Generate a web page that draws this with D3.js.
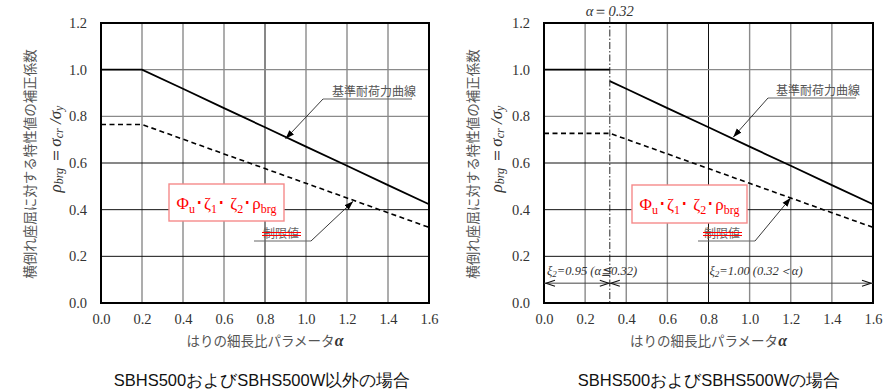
<!DOCTYPE html>
<html>
<head>
<meta charset="utf-8">
<script src="https://cdn.jsdelivr.net/npm/d3@7"></script>
<style>
  html, body { margin: 0; padding: 0; background: #fff; }
  svg { display: block; }
</style>
</head>
<body>
<svg id="chart" width="890" height="390"></svg>
<script>
// Axis ticks
const xTicks = [0.0, 0.2, 0.4, 0.6, 0.8, 1.0, 1.2, 1.4, 1.6];
const yTicks = [0.0, 0.2, 0.4, 0.6, 0.8, 1.0, 1.2];

// Left panel: reference resistance curve (solid) and limit value (dashed)
const leftAlpha = [0.0, 0.2, 0.4, 0.6, 0.8, 1.0, 1.2, 1.4, 1.6];
const leftBase  = [1.0, 1.0, 0.918, 0.835, 0.753, 0.67, 0.588, 0.505, 0.423];
const leftLimit = [0.765, 0.765, 0.702, 0.639, 0.576, 0.513, 0.45, 0.387, 0.324];

// Right panel (SBHS500 / SBHS500W)
const rightFlatAlpha = [0.0, 0.32];
const rightFlatBase  = [1.0, 1.0];
const rightAlpha = [0.32, 0.4, 0.6, 0.8, 1.0, 1.2, 1.4, 1.6];
const rightBase  = [0.951, 0.918, 0.835, 0.753, 0.67, 0.588, 0.505, 0.423];
const rightLimitAlpha = [0.0, 0.32, 0.4, 0.6, 0.8, 1.0, 1.2, 1.4, 1.6];
const rightLimit = [0.727, 0.727, 0.702, 0.639, 0.576, 0.513, 0.45, 0.387, 0.324];
const alphaBoundary = 0.32;
const xiLevel = 0.085;

const svg = d3.select("#chart");
const serif = "'Liberation Serif', 'DejaVu Serif', serif";
const sans = "'Liberation Sans', Arial, sans-serif";
const cjk = "'Noto Sans CJK JP', 'Noto Sans', sans-serif";

const defs = svg.append("defs");
defs.append("marker").attr("id", "arrowFill")
  .attr("viewBox", "0 0 10 10").attr("refX", 10).attr("refY", 5)
  .attr("markerWidth", 9).attr("markerHeight", 9).attr("orient", "auto")
  .attr("markerUnits", "userSpaceOnUse")
  .append("path").attr("d", "M0,1.5 L10,5 L0,8.5 Z").attr("fill", "#000");

function drawPanel(opt) {
  const x = d3.scaleLinear().domain([0, 1.6]).range([opt.x0, opt.x1]);
  const y = d3.scaleLinear().domain([0, 1.2]).range([303, 23]);
  const g = svg.append("g");

  // grid
  const darkX = new Set([0.8]);
  const darkY = new Set([0.2, 0.4, 0.6]);
  g.append("g").selectAll("line").data(xTicks.slice(1, -1)).join("line")
    .attr("x1", d => x(d)).attr("x2", d => x(d))
    .attr("y1", y(1.2)).attr("y2", y(0))
    .attr("stroke", d => darkX.has(d) ? "#111" : "#8a8a8a")
    .attr("stroke-width", d => darkX.has(d) ? 1 : 1.4);
  g.append("g").selectAll("line").data(yTicks.slice(1, -1)).join("line")
    .attr("x1", x(0)).attr("x2", x(1.6))
    .attr("y1", d => y(d)).attr("y2", d => y(d))
    .attr("stroke", d => darkY.has(d) ? "#111" : "#8a8a8a")
    .attr("stroke-width", d => darkY.has(d) ? 1 : 1.4);

  // axes (labels only)
  const xAxis = g.append("g").attr("transform", `translate(0,${y(0)})`)
    .call(d3.axisBottom(x).tickValues(xTicks).tickFormat(d3.format(".1f")).tickSize(0).tickPadding(11));
  const yAxis = g.append("g").attr("transform", `translate(${x(0)},0)`)
    .call(d3.axisLeft(y).tickValues(yTicks).tickFormat(d3.format(".1f")).tickSize(0).tickPadding(14));
  [xAxis, yAxis].forEach(a => {
    a.select(".domain").remove();
    a.attr("font-family", null).attr("font-size", null);
    a.selectAll("text").style("font-family", serif).style("font-size", "14.5px").attr("fill", "#333");
  });

  const line = d3.line().x(d => x(d[0])).y(d => y(d[1]));
  opt.solid.forEach(s => {
    g.append("path").attr("d", line(d3.zip(s[0], s[1])))
      .attr("fill", "none").attr("stroke", "#000").attr("stroke-width", 1.8);
  });
  g.append("path").attr("d", line(d3.zip(opt.dashed[0], opt.dashed[1])))
    .attr("fill", "none").attr("stroke", "#000").attr("stroke-width", 1.6)
    .attr("stroke-dasharray", "5,3.5");

  // frame
  g.append("rect").attr("x", x(0)).attr("y", y(1.2))
    .attr("width", x(1.6) - x(0)).attr("height", y(0) - y(1.2))
    .attr("fill", "none").attr("stroke", "#000").attr("stroke-width", 2);

  // y-axis titles
  g.append("text")
    .attr("transform", `translate(${opt.yl1},164) rotate(-90)`)
    .attr("text-anchor", "middle").attr("dominant-baseline", "central")
    .style("font-family", cjk).style("font-size", "13.5px").attr("fill", "#555")
    .text("横倒れ座屈に対する特性値の補正係数");
  const y2 = g.append("text")
    .attr("transform", `translate(${opt.yl2},149) rotate(-90)`)
    .attr("text-anchor", "middle").attr("dominant-baseline", "central")
    .style("font-family", serif).style("font-size", "17px").style("font-style", "italic").attr("fill", "#333");
  y2.append("tspan").text("ρ");
  y2.append("tspan").style("font-size", "12px").attr("dy", 4).text("brg");
  y2.append("tspan").attr("dy", -4).style("font-style", "normal").text(" ＝");
  y2.append("tspan").text("σ");
  y2.append("tspan").style("font-size", "12px").attr("dy", 4).text("cr");
  y2.append("tspan").attr("dy", -4).text(" /");
  y2.append("tspan").text("σ");
  y2.append("tspan").style("font-size", "12px").attr("dy", 4).text("y");

  // x-axis title
  const xt = g.append("text").attr("x", (x(0) + x(1.6)) / 2).attr("y", 346)
    .attr("text-anchor", "middle").style("font-family", cjk).style("font-size", "13.5px").attr("fill", "#555");
  xt.append("tspan").text("はりの細長比パラメータ");
  xt.append("tspan").style("font-family", serif).style("font-style", "italic").style("font-weight", "bold")
    .style("font-size", "16px").attr("fill", "#333").text("α");

  // panel caption
  g.append("text").attr("x", opt.captionX).attr("y", 386)
    .attr("text-anchor", "middle").style("font-family", sans).style("font-size", "16.5px").attr("fill", "#111")
    .text(opt.caption);

  // label: reference resistance curve
  const a1 = opt.baseLabel;
  g.append("text").attr("x", a1.tx).attr("y", a1.ty)
    .style("font-family", cjk).style("font-size", "12px").attr("fill", "#555").text("基準耐荷力曲線");
  g.append("line").attr("x1", a1.ux0).attr("x2", a1.ux1).attr("y1", a1.uy).attr("y2", a1.uy)
    .attr("stroke", "#666").attr("stroke-width", 1.2);
  g.append("line").attr("x1", a1.ux0).attr("y1", a1.uy)
    .attr("x2", x(a1.ax)).attr("y2", y(a1.ay) + 2)
    .attr("stroke", "#222").attr("stroke-width", 0.9).attr("marker-end", "url(#arrowFill)");

  // formula box
  const b = opt.box;
  g.append("rect").attr("x", b.x).attr("y", b.y).attr("width", b.w).attr("height", b.h)
    .attr("fill", "#fff").attr("stroke", "#f58a8a").attr("stroke-width", 1.4);
  const ft = g.append("text").attr("x", b.x + b.w / 2).attr("y", b.y + b.h / 2 + 6)
    .attr("text-anchor", "middle").style("font-family", serif).style("font-size", "17px").attr("fill", "#f00");
  ft.append("tspan").text("Φ");
  ft.append("tspan").style("font-size", "12px").attr("dy", 4).text("u");
  ft.append("tspan").attr("dy", -4).text("･ζ");
  ft.append("tspan").style("font-size", "12px").attr("dy", 4).text("1");
  ft.append("tspan").attr("dy", -4).text("･ ζ");
  ft.append("tspan").style("font-size", "12px").attr("dy", 4).text("2");
  ft.append("tspan").attr("dy", -4).text("･ρ");
  ft.append("tspan").style("font-size", "12px").attr("dy", 4).text("brg");

  // label: limit value (struck through)
  const a2 = opt.limitLabel;
  g.append("text").attr("x", a2.tx).attr("y", a2.ty)
    .style("font-family", cjk).style("font-size", "12px").attr("fill", "#666").text("制限値");
  [a2.ty - 5.5, a2.ty - 2.5].forEach(yy => {
    g.append("line").attr("x1", a2.tx - 1).attr("x2", a2.tx + 38).attr("y1", yy).attr("y2", yy)
      .attr("stroke", "#f00").attr("stroke-width", 1.2);
  });
  g.append("line").attr("x1", a2.ux0).attr("x2", a2.ux1).attr("y1", a2.uy).attr("y2", a2.uy)
    .attr("stroke", "#666").attr("stroke-width", 1.2);
  g.append("line").attr("x1", a2.ux1).attr("y1", a2.uy)
    .attr("x2", x(a2.ax)).attr("y2", y(a2.ay) + 1)
    .attr("stroke", "#222").attr("stroke-width", 0.9).attr("marker-end", "url(#arrowFill)");

  return { x, y, g };
}

// Left panel
drawPanel({
  x0: 101, x1: 429, yl1: 29, yl2: 55,
  solid: [[leftAlpha, leftBase]],
  dashed: [leftAlpha, leftLimit],
  caption: "SBHS500およびSBHS500W以外の場合", captionX: 262,
  baseLabel: { tx: 332, ty: 96, ux0: 323, ux1: 412, uy: 99, ax: 0.9, ay: 0.712 },
  box: { x: 169, y: 184, w: 115, h: 37 },
  limitLabel: { tx: 263, ty: 238, ux0: 254, ux1: 311, uy: 241, ax: 1.23, ay: 0.44 }
});

// Right panel
const R = drawPanel({
  x0: 544, x1: 873, yl1: 472, yl2: 496,
  solid: [[rightFlatAlpha, rightFlatBase], [rightAlpha, rightBase]],
  dashed: [rightLimitAlpha, rightLimit],
  caption: "SBHS500およびSBHS500Wの場合", captionX: 709,
  baseLabel: { tx: 776, ty: 95, ux0: 768, ux1: 856, uy: 98, ax: 0.92, ay: 0.719 },
  box: { x: 632, y: 185, w: 115, h: 38 },
  limitLabel: { tx: 704, ty: 238, ux0: 698, ux1: 755, uy: 241, ax: 1.2, ay: 0.455 }
});

// α = 0.32 boundary (dash-dot) and its label
const xb = R.x(alphaBoundary);
R.g.append("line").attr("x1", xb).attr("x2", xb).attr("y1", 17).attr("y2", R.y(0))
  .attr("stroke", "#111").attr("stroke-width", 0.9).attr("stroke-dasharray", "7,2,1.5,2");
const bl = R.g.append("text").attr("x", xb).attr("y", 16).attr("text-anchor", "middle")
  .style("font-family", serif).style("font-style", "italic").style("font-size", "14.5px").attr("fill", "#333");
bl.append("tspan").text("α");
bl.append("tspan").style("font-style", "normal").text("＝");
bl.append("tspan").text(String(alphaBoundary));

// ξ2 range arrows
const yx = R.y(xiLevel);
R.g.append("line").attr("x1", R.x(0)).attr("x2", R.x(1.6)).attr("y1", yx).attr("y2", yx)
  .attr("stroke", "#444").attr("stroke-width", 1);
function chevron(xp, dir) {
  R.g.append("path")
    .attr("d", `M${xp + dir * 9},${yx - 3} L${xp},${yx} L${xp + dir * 9},${yx + 3}`)
    .attr("fill", "none").attr("stroke", "#111").attr("stroke-width", 1.1);
}
chevron(R.x(0) + 2, 1);
chevron(xb - 1, -1);
chevron(xb + 1, 1);
chevron(R.x(1.6) - 2, -1);

function xiLabel(xp, val, cond) {
  const t = R.g.append("text").attr("x", xp).attr("y", yx - 8)
    .style("font-family", serif).style("font-style", "italic").style("font-size", "12.5px").attr("fill", "#333");
  t.append("tspan").text("ξ");
  t.append("tspan").style("font-size", "9px").attr("dy", 2).text("2");
  t.append("tspan").attr("dy", -2).text("=" + val + " " + cond);
}
xiLabel(R.x(0) + 3, "0.95", "(α≦0.32)");
xiLabel(R.x(0.8) + 1, "1.00", "(0.32＜α)");
</script>
</body>
</html>
